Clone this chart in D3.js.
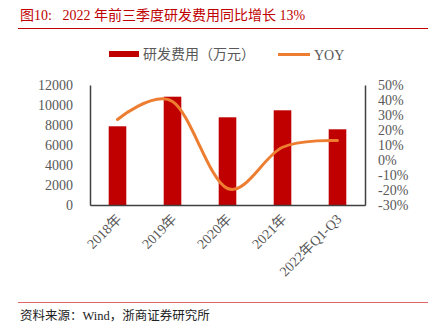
<!DOCTYPE html>
<html><head><meta charset="utf-8">
<script src="https://cdn.jsdelivr.net/npm/d3@7/dist/d3.min.js"></script>
<style>
html,body{margin:0;padding:0;background:#fff;}
text{font-family:"Liberation Serif","Noto Sans CJK SC",serif;}
</style></head>
<body>
<svg id="c" width="432" height="335"></svg>
<script>
const categories = ["2018年","2019年","2020年","2021年","2022年Q1-Q3"];
const rdExpense = [7870, 10830, 8770, 9470, 7570];
const yoy = [27, 39, -19, 8.5, 13];
const leftTicks = [0,2000,4000,6000,8000,10000,12000];
const rightTicks = [-30,-20,-10,0,10,20,30,40,50];
const titleText = "图10:   2022 年前三季度研发费用同比增长 13%";
const sourceText = "资料来源：Wind，浙商证券研究所";
const legendBar = "研发费用（万元）";
const legendLine = "YOY";

const svg = d3.select("#c");
const L = 90, R = 365, T = 85, B = 205;
const gray = "#595959";

// title
svg.append("text").attr("x",20).attr("y",20).attr("fill","#C00000")
  .attr("font-size",14).attr("xml:space","preserve").text(titleText);
svg.append("line").attr("x1",18).attr("x2",428).attr("y1",28.5).attr("y2",28.5)
  .attr("stroke","#C00000").attr("stroke-width",1);

const x = d3.scaleBand().domain(categories).range([L,R]).paddingInner(0.68).paddingOuter(0.34);
const y = d3.scaleLinear().domain([0,12000]).range([B,T]);
const y2 = d3.scaleLinear().domain([-30,50]).range([B,T]);

// bars
svg.append("g").selectAll("rect").data(rdExpense).join("rect")
  .attr("x",(d,i)=>x(categories[i])).attr("width",x.bandwidth())
  .attr("y",d=>y(d)).attr("height",d=>y(0)-y(d)).attr("fill","#C00000");

// axes
const gL = svg.append("g").attr("transform",`translate(${L},0)`)
  .call(d3.axisLeft(y).tickValues(leftTicks).tickSize(0).tickPadding(17).tickFormat(d3.format("d")));
const gR = svg.append("g").attr("transform",`translate(${R},0)`)
  .call(d3.axisRight(y2).tickValues(rightTicks).tickSize(0).tickPadding(13).tickFormat(d=>d+"%"));
const gB = svg.append("g").attr("transform",`translate(0,${B})`)
  .call(d3.axisBottom(x).tickSize(0).tickPadding(0));
[gL,gR,gB].forEach(g=>{
  g.select(".domain").attr("stroke","#404040").attr("stroke-width",1.5);
  g.selectAll("text").attr("fill",gray).attr("font-size",14)
   .attr("font-family",'"Liberation Serif","Noto Sans CJK SC",serif');
});
gB.selectAll("text").attr("text-anchor","end").attr("dy",0)
  .attr("transform","translate(5,15) rotate(-45)");

// line
const line = d3.line().x((d,i)=>x(categories[i])+x.bandwidth()/2).y(d=>y2(d))
  .curve(d3.curveCardinal.tension(0));
svg.append("path").datum(yoy).attr("d",line).attr("fill","none")
  .attr("stroke","#ED7D31").attr("stroke-width",3).attr("stroke-linecap","round");

// legend
svg.append("rect").attr("x",109).attr("y",51).attr("width",30).attr("height",6).attr("fill","#C00000");
svg.append("text").attr("x",143).attr("y",59).attr("fill",gray).attr("font-size",14).text(legendBar);
svg.append("line").attr("x1",278).attr("x2",310).attr("y1",54.5).attr("y2",54.5)
  .attr("stroke","#ED7D31").attr("stroke-width",3);
svg.append("text").attr("x",314).attr("y",59.5).attr("fill",gray).attr("font-size",14).text(legendLine);

// footer
svg.append("line").attr("x1",18).attr("x2",428).attr("y1",302.5).attr("y2",302.5)
  .attr("stroke","#E06666").attr("stroke-width",1);
svg.append("text").attr("x",20).attr("y",319.5).attr("fill","#222").attr("font-size",12.5).text(sourceText);
</script>
</body></html>
